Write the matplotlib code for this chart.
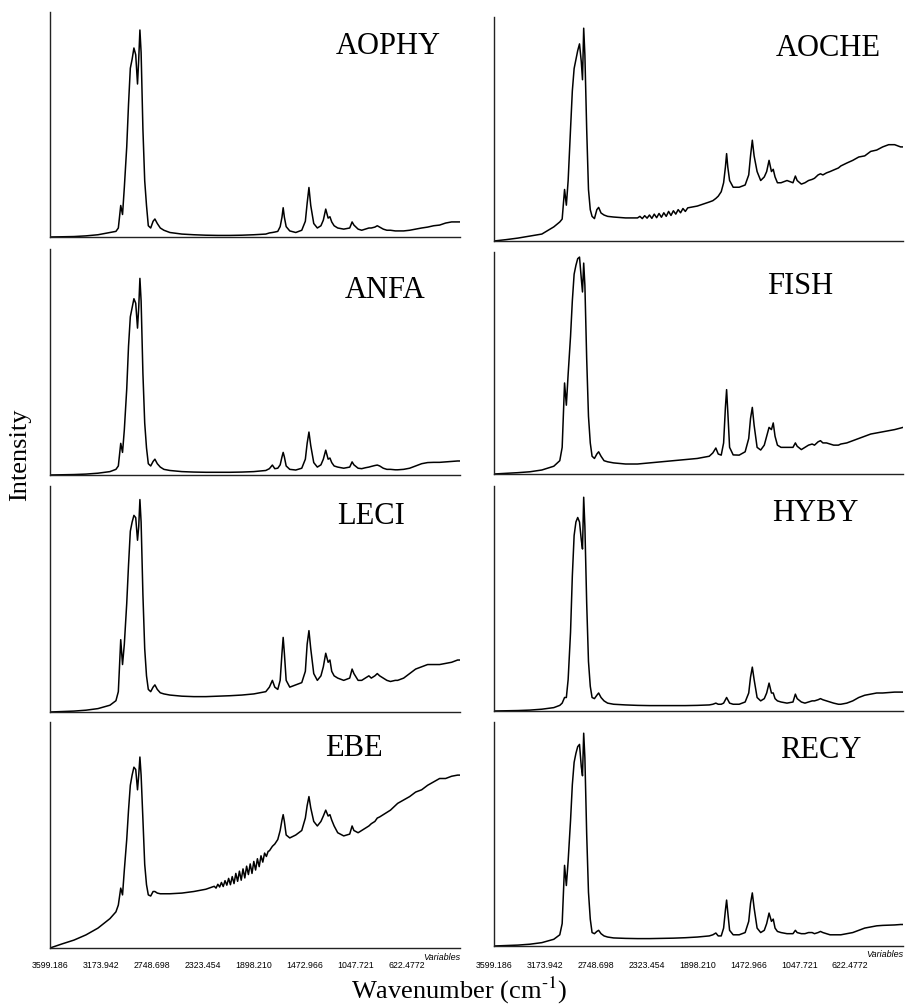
import matplotlib
matplotlib.use("Agg")
import matplotlib.pyplot as plt

# Shared wavenumber grid (cm-1), descending
wavenumber = [3600, 3500, 3400, 3300, 3200, 3100, 3050, 3030, 3010, 2995, 2980, 2960, 2945, 2930, 2915,
              2900, 2885, 2870, 2860, 2850, 2840, 2825, 2810, 2795, 2780, 2760, 2740, 2725, 2705, 2680,
              2650, 2600, 2500, 2400, 2300, 2200, 2100, 2000, 1900, 1800, 1770, 1745, 1725, 1700, 1680,
              1665, 1655, 1645, 1630, 1600, 1550, 1500, 1470, 1455, 1440, 1425, 1400, 1370, 1340, 1320,
              1300, 1280, 1265, 1250, 1230, 1200, 1150, 1100, 1080, 1065, 1030, 1000, 970, 940, 920,
              890, 870, 850, 820, 790, 760, 720, 700, 650, 600, 550, 500, 450, 400, 350,
              300, 250, 200, 180]

aophy = [0, 0.1, 0.2, 0.5, 1, 2, 2.5, 4, 14, 10, 22, 40, 59, 75, 79,
         84, 81, 68, 79, 92, 82, 48, 25, 14, 5, 4, 7, 8, 6, 4,
         3, 2, 1.3, 1, 0.8, 0.7, 0.7, 0.8, 1, 1.3, 1.8, 2, 2.2, 2.5, 4.6,
         8.8, 13, 8.8, 4.6, 2.7, 2, 3, 7, 15, 22, 14, 6, 4, 5, 7.5,
         12.4, 8.4, 9, 6.7, 5, 4, 3.5, 4, 6.7, 5.3, 3.5, 3, 3.5, 4, 4,
         4.4, 5, 4.4, 3.5, 3, 3, 2.7, 2.7, 2.7, 3, 3.5, 4, 4.4, 5, 5.3,
         6.2, 6.7, 6.7, 6.7]

anfa = [0, 0.1, 0.2, 0.4, 0.8, 1.5, 2.5, 4, 14, 10, 20, 38, 57, 70, 74,
        78, 76, 65, 74, 87, 77, 45, 23, 12, 5, 4, 6, 7, 5, 3.5,
        2.5, 2, 1.5, 1.3, 1.2, 1.2, 1.2, 1.3, 1.5, 2, 2.8, 4.4, 2.8, 3, 4.5,
        8, 10, 8, 4, 2.5, 2.2, 3, 7, 14, 19, 13, 5.5, 3.5, 4.5, 7,
        11, 7, 7.5, 5.5, 4, 3.5, 3, 3.5, 5.8, 4.5, 3, 2.8, 3.2, 3.5, 3.8,
        4.2, 4.4, 4, 3, 2.5, 2.5, 2.3, 2.3, 2.5, 3, 4, 5, 5.5, 5.6, 5.6,
        5.8, 6, 6.2, 6.2]

leci = [0, 0.2, 0.4, 0.8, 1.5, 3, 5, 9, 32, 21, 30, 48, 65, 80, 84,
        87, 86, 76, 82, 94, 84, 52, 28, 16, 10, 9, 11, 12, 10, 8.5,
        8, 7.5, 7, 6.8, 6.8, 7, 7.2, 7.5, 8, 9, 11, 14, 11, 10, 14,
        26, 33, 26, 14, 11, 12, 13, 18, 30, 36, 28, 17, 14, 16, 20,
        26, 22, 23, 18, 16, 15, 14, 15, 19, 17, 14, 14, 15, 16, 15,
        16, 17, 16, 15, 14, 13.5, 14, 14, 15, 17, 19, 20, 21, 21, 21,
        21.5, 22, 23, 23]

ebe = [0, 1.8, 3.5, 5.8, 8.8, 13, 16, 19, 26.5, 23.5, 34.5, 48, 61, 72, 76.5,
       80, 79, 70, 76.5, 84.5, 76.5, 57, 37, 28, 23.5, 23, 25, 25, 24.3, 24,
       24, 24, 24.3, 25, 26, 28, 31, 34.5, 38, 42.5, 43, 45, 46, 48, 52,
       56.6, 59, 56, 50, 48.7, 50, 52, 57.5, 63, 67, 62, 56, 54, 56, 58.4,
       61, 58.4, 59, 56.6, 54, 51, 49.6, 50.4, 54, 52, 51, 52, 53, 54, 55,
       56, 57.5, 58, 59, 60, 61, 63, 64, 65.5, 67, 69, 70, 72, 73.5, 75,
       75, 76, 76.5, 76.5]

# noisy stretch of the EBE baseline
ebe_noise_wn = [2230, 2215, 2200, 2185, 2170, 2155, 2140, 2125, 2110, 2095, 2080, 2065, 2050, 2035, 2020, 2005,
                1990, 1975, 1960, 1945, 1930, 1915, 1900, 1885, 1870, 1855, 1840, 1825, 1810, 1795, 1780]
ebe_noise_val = [27.3, 26.5, 28.2, 27.0, 29.0, 27.2, 29.8, 27.8, 30.8, 28.0, 31.6, 28.5, 33.0, 29.5, 34.0, 30.0,
                 35.0, 31.0, 36.2, 32.5, 37.2, 33.0, 38.3, 34.5, 39.5, 36.0, 40.8, 38.0, 42.0, 40.5, 42.8]

aoche = [0, 0.6, 1.3, 2.2, 3.1, 6.3, 8.5, 9.8, 23, 16, 27, 50, 67, 77, 81,
         85, 88, 80, 72, 95, 83, 50, 23, 14, 11, 10, 14, 15, 12.5, 11.6,
         11, 10.7, 10.3, 10.3, 10.7, 11, 12.5, 14, 15.6, 17.4, 18, 19, 20, 22, 26,
         33, 39, 33, 27, 24, 24, 25, 29.5, 38, 45, 38, 31, 27, 28.6, 31,
         36, 31, 32, 28.6, 26, 26, 27, 26, 29, 27, 25.4, 26, 27, 27.5, 28,
         29.5, 30, 29.5, 30.4, 31, 31.7, 32.6, 33.5, 34.8, 36, 37.5, 38, 40, 40.6, 42,
         43, 43, 42, 42]

# noisy stretch of the AOCHE baseline
aoche_noise_wn = [2400, 2380, 2360, 2340, 2320, 2300, 2280, 2260, 2240, 2220, 2200,
                  2180, 2160, 2140, 2120, 2100, 2080, 2060, 2040, 2020, 2000, 1980]
aoche_noise_val = [10.3, 11.0, 10.0, 11.3, 10.2, 11.6, 10.1, 12.0, 10.4, 12.3, 10.6,
                   12.6, 11.0, 13.2, 11.4, 13.5, 12.0, 14.0, 12.6, 14.5, 13.2, 14.8]

fish = [0, 0.3, 0.6, 1, 1.8, 3.5, 6, 12, 41, 31, 45, 62, 78, 90, 94,
        97, 97.7, 88, 82, 95, 85, 52, 26, 14, 8, 7, 9, 10, 8, 6,
        5.5, 5, 4.5, 4.5, 5, 5.5, 6, 6.5, 7, 8, 9.5, 11.7, 9, 8.5, 14,
        30, 38, 28, 12, 8.6, 8.5, 10, 16, 25, 30, 22, 12, 10.8, 13, 17,
        21, 20, 23, 17, 13, 12, 12, 12, 14, 12.5, 11, 12, 13, 13.5, 13,
        14.5, 15, 14, 14, 13.5, 13, 13, 13.5, 14, 15, 16, 17, 18, 18.5, 19,
        19.5, 20, 20.7, 21]

hyby = [0, 0.1, 0.2, 0.4, 0.8, 1.5, 2.5, 3.5, 6, 6, 14, 35, 60, 78, 84,
        86, 84, 76, 72, 95, 82, 48, 22, 11, 6, 5.5, 7, 8, 6, 4.5,
        3.5, 3, 2.7, 2.5, 2.4, 2.4, 2.4, 2.4, 2.5, 2.7, 3, 3.5, 3, 3, 3.5,
        5, 6, 5, 3.5, 3, 3, 4, 8, 15, 19.5, 14, 6, 4.5, 5.5, 8,
        12.4, 8, 8, 5.5, 4.5, 4, 3.5, 4, 7.5, 5.5, 4, 3.5, 4, 4.5, 4.5,
        5, 5.5, 5, 4.5, 4, 3.5, 3, 3, 3.5, 4.5, 6, 7, 7.5, 8, 8,
        8.2, 8.4, 8.4, 8.4]

recy = [0, 0.2, 0.4, 0.8, 1.5, 3, 5, 10, 36, 27, 38, 56, 72, 82, 86,
        89, 90, 80, 76, 95, 84, 50, 24, 12, 6, 5.5, 6.5, 7, 5.5, 4.5,
        4, 3.6, 3.4, 3.3, 3.3, 3.4, 3.5, 3.7, 4, 4.5, 5, 5.8, 4.5, 4.5, 8,
        16, 20.5, 15, 7, 5, 5, 6, 11, 19, 23.7, 17, 8, 6, 7, 10,
        14.7, 11, 12, 8, 6.5, 6, 5.5, 5.5, 7, 6, 5.5, 5.5, 6, 6, 5.5,
        6, 6.5, 6, 5.5, 5, 5, 5, 5, 5.5, 6, 7, 8, 8.5, 9, 9.2,
        9.3, 9.4, 9.6, 9.6]

left_names = ["AOPHY", "ANFA", "LECI", "EBE"]
right_names = ["AOCHE", "FISH", "HYBY", "RECY"]
left_series = [aophy, anfa, leci, ebe]
right_series = [aoche, fish, hyby, recy]
noise = {"EBE": (ebe_noise_wn, ebe_noise_val), "AOCHE": (aoche_noise_wn, aoche_noise_val)}

tick_values = [3599.186, 3173.942, 2748.698, 2323.454, 1898.210, 1472.966, 1047.721, 622.4772]
tick_labels = ["3599.186", "3173.942", "2748.698", "2323.454", "1898.210", "1472.966", "1047.721", "622.4772"]

for s in left_series + right_series:
    assert len(s) == len(wavenumber), len(s)
for k, (a, b) in noise.items():
    assert len(a) == len(b), k


def series_xy(name, values):
    if name not in noise:
        return wavenumber, values
    nw, nv = noise[name]
    hi, lo = max(nw), min(nw)
    pts = [(w, v) for w, v in zip(wavenumber, values) if w > hi or w < lo]
    pts += list(zip(nw, nv))
    pts.sort(key=lambda p: -p[0])
    return [p[0] for p in pts], [p[1] for p in pts]


W, H = 917, 1005
fig = plt.figure(figsize=(W / 100, H / 100), dpi=100)
plt.rcParams["mathtext.fontset"] = "stix"

left_rows = [(12, 237), (249, 475), (486, 712), (722, 948)]
right_rows = [(17, 241), (252, 474), (486, 711), (722, 946)]
left_x = (50, 460)
right_x = (494, 903)

# title positions (pixel centers)
left_title_pos = [(388, 47), (385, 291), (371, 517), (354, 749)]
right_title_pos = [(828, 49), (800, 287), (815, 513), (821, 750)]

serif = ["Liberation Serif", "DejaVu Serif"]
sans = ["Liberation Sans", "DejaVu Sans"]


def make_panel(xr, yr, data, name, tpos, bottom):
    x0, x1 = xr
    top, bot = yr
    ax = fig.add_axes([x0 / W, 1 - bot / H, (x1 - x0) / W, (bot - top) / H])
    xs, ys = series_xy(name, data)
    ax.plot(xs, ys, color="black", lw=1.1)
    ax.set_xlim(3600, 180)
    ax.set_ylim(0, 100)
    for s in ("top", "right"):
        ax.spines[s].set_visible(False)
    for s in ("left", "bottom"):
        ax.spines[s].set_linewidth(1.0)
        ax.spines[s].set_color("#222222")
    ax.set_yticks([])
    ax.set_xticks(tick_values)
    if bottom:
        ax.tick_params(axis="x", length=0, pad=9 + (948 - bot) * 0.75)
        ax.set_xticklabels(tick_labels, fontsize=6.3, family=sans)
        ax.text(1.0, -0.02, "Variables", transform=ax.transAxes, ha="right", va="top",
                fontsize=6.5, style="italic", family=sans)
    else:
        ax.tick_params(axis="x", length=0)
        ax.set_xticklabels([])
    tx, ty = tpos
    fig.text(tx / W, 1 - ty / H, name, ha="center", va="center", fontsize=22, family=serif)
    return ax


for i in range(4):
    make_panel(left_x, left_rows[i], left_series[i], left_names[i], left_title_pos[i], i == 3)
    make_panel(right_x, right_rows[i], right_series[i], right_names[i], right_title_pos[i], i == 3)

fig.text(20 / W, 1 - 455 / H, "Intensity", rotation=90, ha="center", va="center",
         fontsize=19, family=serif)
fig.text(459 / W, 1 - 990 / H, "Wavenumber (cm$^{\\text{-}1}$)", ha="center", va="center",
         fontsize=19, family=serif)

fig.savefig("out.png", dpi=100)
